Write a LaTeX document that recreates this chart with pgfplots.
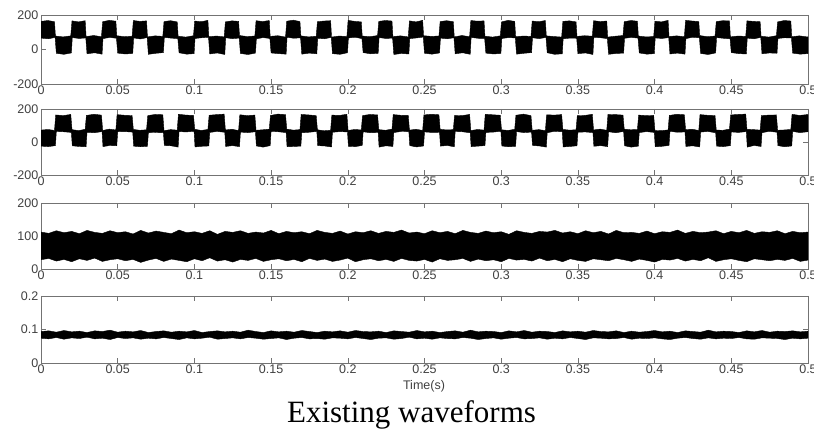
\documentclass[border=0pt]{standalone}
\usepackage{pgfplots}
\pgfplotsset{compat=1.18}
\usepackage{fontspec}
\setmainfont{Liberation Serif}
\newfontfamily\arial{Liberation Sans}
\pgfplotsset{
  wf/.style={
    scale only axis, width=767pt, xmin=0, xmax=500,
    anchor=south west,
    xtick={0,50,...,500},
    xticklabels={0,0.05,0.1,0.15,0.2,0.25,0.3,0.35,0.4,0.45,0.5},
    tick align=inside,
    major tick length=5pt,
    axis line style={black!55, line width=0.6pt},
    every tick/.style={black!55, line width=0.5pt},
    tick label style={font=\arial\fontsize{12.5}{13}\selectfont, text=black!75},
    xticklabel style={inner sep=1.5pt},
    yticklabel style={inner sep=2.5pt},
  },
  band/.style={fill=black, draw=black, line width=0.4pt}
}
\begin{document}
\begin{tikzpicture}
\path[use as bounding box] (0pt,0pt) rectangle (814pt,431pt);
% ---------- plot 1 ----------
\begin{axis}[wf, at={(41pt,347pt)}, height=69pt, ymin=-200, ymax=200,
  ytick={-200,0,200}, yticklabels={-200,0,200}]
\addplot[band] coordinates {
(0,163)(4.5,168)(8.8,161)(9.4,78)(14.4,73)(19.4,79)
(20.2,166)(24.5,160)(28.8,167)(29.4,75)(34.4,81)(39.4,74)
(40.2,161)(44.5,169)(48.8,164)(49.4,80)(54.4,74)(59.4,77)
(60.2,168)(64.5,163)(68.8,166)(69.4,73)(74.4,79)(79.4,76)
(80.2,162)(84.5,167)(88.8,160)(89.4,77)(94.4,72)(99.4,80)
(100.2,165)(104.5,161)(108.8,169)(109.4,74)(114.4,78)(119.4,73)
(120.2,160)(124.5,166)(128.8,163)(129.4,81)(134.4,75)(139.4,78)
(140.2,167)(144.5,162)(148.8,168)(149.4,76)(154.4,80)(159.4,72)
(160.2,164)(164.5,170)(168.8,162)(169.4,79)(174.4,73)(179.4,77)
(180.2,161)(184.5,165)(188.8,167)(189.4,72)(194.4,78)(199.4,75)
(200.2,169)(204.5,163)(208.8,160)(209.4,78)(214.4,74)(219.4,81)
(220.2,163)(224.5,168)(228.8,165)(229.4,75)(234.4,79)(239.4,73)
(240.2,166)(244.5,160)(248.8,169)(249.4,80)(254.4,76)(259.4,78)
(260.2,162)(264.5,167)(268.8,161)(269.4,73)(274.4,81)(279.4,74)
(280.2,168)(284.5,164)(288.8,166)(289.4,77)(294.4,72)(299.4,79)
(300.2,160)(304.5,169)(308.8,163)(309.4,74)(314.4,78)(319.4,76)
(320.2,165)(324.5,161)(328.8,168)(329.4,79)(334.4,75)(339.4,72)
(340.2,163)(344.5,166)(348.8,160)(349.4,76)(354.4,80)(359.4,77)
(360.2,167)(364.5,162)(368.8,165)(369.4,72)(374.4,77)(379.4,81)
(380.2,161)(384.5,168)(388.8,164)(389.4,78)(394.4,73)(399.4,75)
(400.2,164)(404.5,160)(408.8,169)(409.4,75)(414.4,79)(419.4,74)
(420.2,169)(424.5,165)(428.8,162)(429.4,81)(434.4,74)(439.4,78)
(440.2,162)(444.5,167)(448.8,166)(449.4,73)(454.4,78)(459.4,76)
(460.2,166)(464.5,163)(468.8,161)(469.4,77)(474.4,72)(479.4,80)
(480.2,160)(484.5,168)(488.8,165)(489.4,74)(494.4,79)(499.4,73)
(500,73)
(500,-24)
(499.8,-24)(494.9,-27)(490.0,-21)(489.2,67)(484.8,68)(480.4,64)
(479.8,-22)(474.9,-20)(470.0,-25)(469.2,70)(464.8,62)(460.4,66)
(459.8,-26)(454.9,-24)(450.0,-18)(449.2,62)(444.8,65)(440.4,69)
(439.8,-20)(434.9,-29)(430.0,-23)(429.2,68)(424.8,71)(420.4,63)
(419.8,-27)(414.9,-21)(410.0,-26)(409.2,69)(404.8,64)(400.4,67)
(399.8,-24)(394.9,-27)(390.0,-20)(389.2,66)(384.8,70)(380.4,65)
(379.8,-21)(374.9,-23)(370.0,-28)(369.2,63)(364.8,68)(360.4,71)
(359.8,-29)(354.9,-20)(350.0,-24)(349.2,65)(344.8,66)(340.4,62)
(339.8,-25)(334.9,-28)(330.0,-19)(329.2,70)(324.8,63)(320.4,68)
(319.8,-18)(314.9,-22)(310.0,-27)(309.2,67)(304.8,69)(300.4,64)
(299.8,-23)(294.9,-26)(290.0,-21)(289.2,64)(284.8,65)(280.4,70)
(279.8,-28)(274.9,-19)(270.0,-25)(269.2,68)(264.8,62)(260.4,66)
(259.8,-20)(254.9,-27)(250.0,-22)(249.2,72)(244.8,67)(240.4,63)
(239.8,-26)(234.9,-23)(230.0,-29)(229.2,66)(224.8,64)(220.4,69)
(219.8,-22)(214.9,-25)(210.0,-18)(209.2,63)(204.8,71)(200.4,67)
(199.8,-19)(194.9,-28)(190.0,-24)(189.2,70)(184.8,62)(180.4,65)
(179.8,-25)(174.9,-21)(170.0,-27)(169.2,68)(164.8,65)(160.4,71)
(159.8,-27)(154.9,-24)(150.0,-20)(149.2,64)(144.8,69)(140.4,62)
(139.8,-21)(134.9,-29)(130.0,-23)(129.2,66)(124.8,63)(120.4,68)
(119.8,-29)(114.9,-20)(110.0,-26)(109.2,71)(104.8,68)(100.4,64)
(99.8,-24)(94.9,-27)(90.0,-19)(89.2,63)(84.8,66)(80.4,70)
(79.8,-18)(74.9,-22)(70.0,-28)(69.2,69)(64.8,61)(60.4,67)
(59.8,-23)(54.9,-26)(50.0,-21)(49.2,65)(44.8,70)(40.4,63)
(39.8,-27)(34.9,-19)(30.0,-25)(29.2,67)(24.8,64)(20.4,69)
(19.8,-20)(14.9,-28)(10.0,-22)(9.2,70)(4.8,62)(0,66)
} -- cycle;
\end{axis}
% ---------- plot 2 ----------
\begin{axis}[wf, at={(41pt,256pt)}, height=66pt, ymin=-200, ymax=200,
  ytick={-200,0,200}, yticklabels={-200,0,200}]
\addplot[band] coordinates {
(0,72)(4.5,76)(8.8,70)(9.6,164)(14.5,160)(19.4,167)
(20.2,75)(24.5,69)(28.8,77)(29.6,161)(34.5,168)(39.4,163)
(40.2,70)(44.5,78)(48.8,73)(49.6,166)(54.5,162)(59.4,160)
(60.2,76)(64.5,71)(68.8,74)(69.6,160)(74.5,167)(79.4,165)
(80.2,69)(84.5,75)(88.8,72)(89.6,168)(94.5,163)(99.4,161)
(100.2,77)(104.5,70)(108.8,76)(109.6,162)(114.5,166)(119.4,169)
(120.2,73)(124.5,77)(128.8,69)(129.6,165)(134.5,160)(139.4,163)
(140.2,71)(144.5,74)(148.8,78)(149.6,161)(154.5,169)(159.4,166)
(160.2,78)(164.5,72)(168.8,75)(169.6,167)(174.5,164)(179.4,160)
(180.2,74)(184.5,68)(188.8,71)(189.6,163)(194.5,161)(199.4,168)
(200.2,70)(204.5,76)(208.8,73)(209.6,160)(214.5,167)(219.4,164)
(220.2,75)(224.5,71)(228.8,78)(229.6,166)(234.5,162)(239.4,161)
(240.2,72)(244.5,77)(248.8,70)(249.6,164)(254.5,168)(259.4,165)
(260.2,77)(264.5,73)(268.8,75)(269.6,161)(274.5,160)(279.4,167)
(280.2,69)(284.5,76)(288.8,72)(289.6,168)(294.5,165)(299.4,162)
(300.2,74)(304.5,70)(308.8,77)(309.6,162)(314.5,169)(319.4,160)
(320.2,71)(324.5,75)(328.8,69)(329.6,165)(334.5,163)(339.4,166)
(340.2,76)(344.5,72)(348.8,74)(349.6,160)(354.5,161)(359.4,168)
(360.2,73)(364.5,78)(368.8,71)(369.6,167)(374.5,166)(379.4,163)
(380.2,78)(384.5,74)(388.8,76)(389.6,163)(394.5,160)(399.4,161)
(400.2,70)(404.5,69)(408.8,73)(409.6,161)(414.5,168)(419.4,165)
(420.2,75)(424.5,77)(428.8,70)(429.6,166)(434.5,162)(439.4,160)
(440.2,72)(444.5,71)(448.8,78)(449.6,164)(454.5,167)(459.4,169)
(460.2,77)(464.5,75)(468.8,72)(469.6,160)(474.5,163)(479.4,164)
(480.2,71)(484.5,73)(488.8,76)(489.6,168)(494.5,161)(499.4,166)
(500,166)
(500,62)
(499.8,62)(494.7,57)(490.0,64)(489.4,-24)(484.8,-29)(480.4,-22)
(479.8,59)(474.7,65)(470.0,56)(469.4,-27)(464.8,-21)(460.4,-31)
(459.8,63)(454.7,58)(450.0,61)(449.4,-22)(444.8,-28)(440.4,-25)
(439.8,56)(434.7,64)(430.0,60)(429.4,-30)(424.8,-23)(420.4,-27)
(419.8,61)(414.7,59)(410.0,65)(409.4,-21)(404.8,-26)(400.4,-29)
(399.8,58)(394.7,63)(390.0,57)(389.4,-25)(384.8,-31)(380.4,-23)
(379.8,64)(374.7,56)(370.0,62)(369.4,-28)(364.8,-22)(360.4,-26)
(359.8,57)(354.7,61)(350.0,59)(349.4,-23)(344.8,-27)(340.4,-30)
(339.8,62)(334.7,65)(330.0,56)(329.4,-31)(324.8,-24)(320.4,-21)
(319.8,60)(314.7,57)(310.0,63)(309.4,-26)(304.8,-29)(300.4,-24)
(299.8,65)(294.7,60)(290.0,58)(289.4,-22)(284.8,-25)(280.4,-28)
(279.8,56)(274.7,62)(270.0,64)(269.4,-29)(264.8,-21)(260.4,-25)
(259.8,59)(254.7,58)(250.0,61)(249.4,-24)(244.8,-30)(240.4,-22)
(239.8,63)(234.7,64)(230.0,57)(229.4,-27)(224.8,-23)(220.4,-31)
(219.8,58)(214.7,56)(210.0,62)(209.4,-21)(204.8,-28)(200.4,-26)
(199.8,61)(194.7,63)(190.0,59)(189.4,-30)(184.8,-24)(180.4,-22)
(179.8,64)(174.7,59)(170.0,56)(169.4,-25)(164.8,-27)(160.4,-29)
(159.8,57)(154.7,62)(150.0,65)(149.4,-22)(144.8,-31)(140.4,-24)
(139.8,62)(134.7,57)(130.0,60)(129.4,-28)(124.8,-22)(120.4,-27)
(119.8,59)(114.7,64)(110.0,58)(109.4,-24)(104.8,-26)(100.4,-30)
(99.8,65)(94.7,61)(90.0,63)(89.4,-31)(84.8,-23)(80.4,-21)
(79.8,56)(74.7,58)(70.0,57)(69.4,-26)(64.8,-29)(60.4,-25)
(59.8,60)(54.7,63)(50.0,62)(49.4,-23)(44.8,-21)(40.4,-28)
(39.8,63)(34.7,56)(30.0,59)(29.4,-29)(24.8,-27)(20.4,-23)
(19.8,58)(14.7,62)(10.0,64)(9.4,-22)(4.8,-28)(0,-25)
} -- cycle;
\end{axis}
% ---------- plot 3 ----------
\begin{axis}[wf, at={(41pt,162pt)}, height=66pt, ymin=0, ymax=200,
  ytick={0,100,200}, yticklabels={0,100,200}]
\addplot[band] coordinates {
(0,112)(5,108)(10,116)(15,110)(20,114)(25,107)(30,117)(35,111)(40,108)(45,116)
(50,110)(55,113)(60,106)(65,117)(70,109)(75,115)(80,111)(85,107)(90,118)(95,110)
(100,113)(105,108)(110,116)(115,105)(120,114)(125,111)(130,116)(135,108)(140,112)(145,109)
(150,117)(155,107)(160,114)(165,110)(170,113)(175,107)(180,117)(185,111)(190,108)(195,115)
(200,106)(205,113)(210,110)(215,116)(220,108)(225,114)(230,111)(235,118)(240,109)(245,112)
(250,107)(255,116)(260,110)(265,114)(270,107)(275,117)(280,111)(285,108)(290,115)(295,110)
(300,113)(305,105)(310,116)(315,111)(320,108)(325,114)(330,112)(335,117)(340,109)(345,113)
(350,107)(355,116)(360,110)(365,114)(370,106)(375,117)(380,110)(385,111)(390,108)(395,115)
(400,107)(405,113)(410,111)(415,118)(420,108)(425,114)(430,110)(435,112)(440,116)(445,107)
(450,114)(455,110)(460,117)(465,108)(470,113)(475,111)(480,116)(485,107)(490,114)(495,110)
(500,112)
(500,27)
(495,23)(490,32)(485,26)(480,29)(475,25)(470,28)(465,31)(460,22)(455,26)(450,31)
(445,28)(440,23)(435,34)(430,25)(425,29)(420,24)(415,32)(410,27)(405,29)(400,21)
(395,26)(390,30)(385,23)(380,28)(375,32)(370,25)(365,28)(360,31)(355,23)(350,26)
(345,31)(340,22)(335,29)(330,25)(325,33)(320,24)(315,29)(310,27)(305,32)(300,22)
(295,28)(290,25)(285,30)(280,23)(275,32)(270,28)(265,26)(260,31)(255,21)(250,29)
(245,24)(240,26)(235,32)(230,23)(225,29)(220,25)(215,31)(210,28)(205,22)(200,33)
(195,27)(190,23)(185,30)(180,26)(175,32)(170,22)(165,29)(160,25)(155,31)(150,28)
(145,23)(140,32)(135,26)(130,29)(125,21)(120,28)(115,24)(110,34)(105,25)(100,31)
(95,22)(90,26)(85,30)(80,23)(75,32)(70,27)(65,20)(60,29)(55,25)(50,31)
(45,28)(40,23)(35,33)(30,26)(25,31)(20,22)(15,29)(10,24)(5,32)(0,28)
} -- cycle;
\end{axis}
% ---------- plot 4 ----------
\begin{axis}[wf, at={(41pt,68pt)}, height=67pt, ymin=0, ymax=200,
  ytick={0,100,200}, yticklabels={0,0.1,0.2}]
\addplot[band] coordinates {
(0,94)(5,96)(10,92)(15,97)(20,93)(25,95)(30,91)(35,96)(40,94)(45,98)
(50,92)(55,95)(60,93)(65,97)(70,91)(75,94)(80,96)(85,92)(90,95)(95,93)
(100,97)(105,91)(110,94)(115,96)(120,93)(125,95)(130,92)(135,98)(140,94)(145,91)
(150,96)(155,93)(160,95)(165,92)(170,97)(175,94)(180,91)(185,95)(190,93)(195,96)
(200,92)(205,97)(210,94)(215,93)(220,95)(225,91)(230,96)(235,94)(240,92)(245,97)
(250,93)(255,95)(260,91)(265,94)(270,96)(275,92)(280,98)(285,93)(290,95)(295,94)
(300,91)(305,96)(310,93)(315,97)(320,92)(325,95)(330,94)(335,91)(340,96)(345,93)
(350,95)(355,92)(360,97)(365,94)(370,93)(375,96)(380,91)(385,95)(390,92)(395,94)
(400,97)(405,93)(410,95)(415,91)(420,96)(425,94)(430,92)(435,98)(440,93)(445,95)
(450,94)(455,91)(460,96)(465,93)(470,97)(475,92)(480,95)(485,94)(490,96)(495,93)
(500,95)
(500,74)
(495,72)(490,74)(485,70)(480,73)(475,74)(470,75)(465,71)(460,72)(455,76)(450,73)
(445,74)(440,72)(435,75)(430,71)(425,73)(420,76)(415,74)(410,70)(405,72)(400,75)
(395,73)(390,74)(385,71)(380,76)(375,73)(370,72)(365,74)(360,75)(355,70)(350,73)
(345,76)(340,72)(335,74)(330,71)(325,75)(320,73)(315,72)(310,76)(305,74)(300,71)
(295,75)(290,73)(285,70)(280,74)(275,76)(270,72)(265,73)(260,75)(255,71)(250,74)
(245,72)(240,77)(235,73)(230,71)(225,75)(220,74)(215,70)(210,73)(205,76)(200,72)
(195,74)(190,75)(185,71)(180,73)(175,72)(170,76)(165,74)(160,70)(155,75)(150,73)
(145,71)(140,74)(135,76)(130,72)(125,75)(120,73)(115,71)(110,77)(105,74)(100,72)
(95,75)(90,70)(85,73)(80,76)(75,72)(70,74)(65,71)(60,75)(55,73)(50,76)
(45,70)(40,74)(35,72)(30,77)(25,73)(20,75)(15,71)(10,76)(5,72)(0,74)
} -- cycle;
\end{axis}
\node[anchor=base, font=\arial\fontsize{12.5}{13}\selectfont, text=black!75] at (424pt,41pt) {Time(s)};
\node[anchor=base, font=\fontsize{31}{34}\selectfont] at (411.5pt,8pt) {Existing waveforms};
\end{tikzpicture}
\end{document}
